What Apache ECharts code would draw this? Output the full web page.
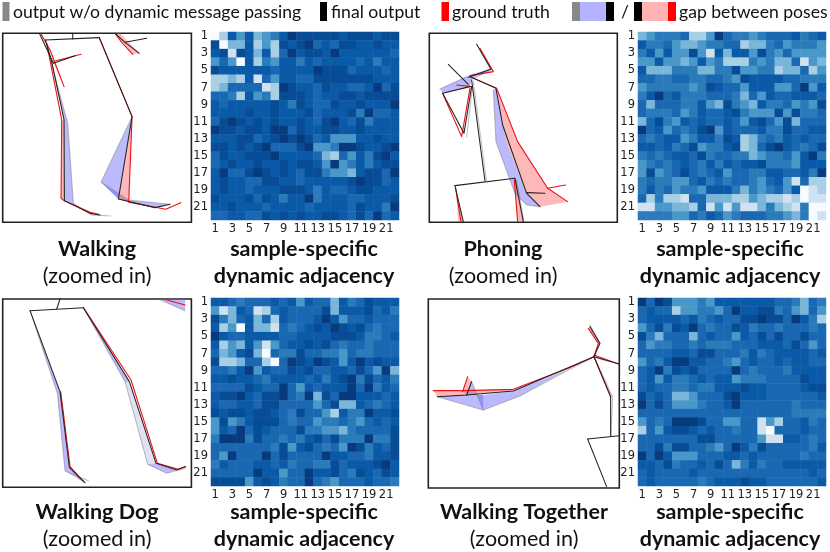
<!DOCTYPE html>
<html><head><meta charset="utf-8">
<style>html,body{margin:0;padding:0;background:#fff}#c{width:830px;height:552px}</style>
<script src="https://cdn.jsdelivr.net/npm/echarts@6/dist/echarts.min.js"></script>
</head><body><div id="c"></div>
<script>
const tickLabels = ['1','2','3','4','5','6','7','8','9','10','11','12','13','14','15','16','17','18','19','20','21','22'];
const matrixWalking = [
[9,7,2,5,2,6,5,4,2,0,1,1,1,1,1,2,1,1,1,2,1,1],
[1,9,6,6,2,7,5,7,1,2,1,0,3,2,3,1,1,2,2,1,2,2],
[2,1,8,1,2,6,2,7,3,0,2,1,1,2,0,2,2,2,2,2,2,3],
[5,3,5,9,2,7,4,5,2,2,4,2,3,2,2,2,2,3,2,4,2,2],
[1,2,2,2,2,2,2,3,2,2,2,2,0,1,1,1,3,2,2,2,3,2],
[7,7,6,7,2,8,3,5,2,2,3,3,1,1,1,1,1,1,1,2,2,2],
[7,6,3,3,3,3,8,7,0,1,2,2,3,1,2,2,3,3,2,0,3,1],
[3,3,4,7,2,5,4,7,1,1,1,2,3,2,2,1,1,2,1,1,1,1],
[2,3,2,2,2,2,2,1,2,4,1,2,3,3,1,2,2,1,2,2,2,0],
[2,2,2,2,1,2,2,1,2,2,2,1,3,2,2,2,1,4,0,3,3,2],
[3,1,0,1,2,1,2,1,2,2,1,2,3,1,0,2,3,1,4,2,2,2],
[0,1,1,2,1,1,2,0,0,3,1,2,2,1,1,2,2,1,2,2,2,2],
[2,2,2,1,1,3,2,1,0,1,0,1,3,2,5,5,5,2,2,1,2,2],
[1,1,2,1,2,1,0,3,3,3,1,0,5,5,4,0,0,1,2,2,1,0],
[3,1,2,2,1,1,1,0,2,2,2,2,3,6,7,3,5,2,4,1,0,2],
[3,2,1,2,2,1,2,2,1,2,1,1,2,5,0,5,4,2,4,2,1,1],
[2,0,3,3,1,0,1,2,1,2,3,1,1,4,5,5,6,2,1,1,3,0],
[2,1,2,2,3,3,1,1,2,2,3,2,2,2,2,2,1,0,1,1,3,2],
[2,1,2,2,3,2,2,2,1,1,1,2,4,2,3,3,2,1,1,2,2,2],
[1,2,2,2,1,3,1,2,4,2,2,0,4,2,2,2,3,3,2,2,2,1],
[2,2,1,2,2,2,3,2,2,2,2,3,2,2,2,2,3,1,2,2,4,0],
[3,3,2,2,3,3,1,2,1,2,1,2,2,1,1,2,3,1,3,0,3,2]];
const matrixPhoning = [
[6,5,4,4,4,3,7,7,5,0,3,4,4,5,4,3,3,3,2,4,3,2],
[2,4,4,3,5,6,6,5,4,4,3,3,7,6,6,4,3,5,4,4,4,5],
[4,2,5,2,5,5,1,5,8,2,6,2,2,5,1,4,5,3,5,5,5,5],
[5,5,2,5,5,6,5,2,5,4,7,7,7,4,5,4,6,6,3,8,5,6],
[2,6,6,6,4,4,4,6,6,4,4,1,5,5,4,4,7,6,6,3,7,5],
[3,3,4,4,3,3,4,4,3,3,4,5,1,2,2,2,2,3,3,4,4,4],
[5,4,4,4,4,4,5,4,1,2,3,3,5,2,2,2,5,5,3,0,5,2],
[4,2,0,3,2,4,4,4,3,3,3,4,6,3,5,2,3,3,2,2,2,3],
[3,6,3,3,3,4,4,2,5,6,1,4,5,6,2,4,4,3,5,4,5,1],
[3,4,4,4,3,5,4,2,3,3,2,1,4,5,5,5,1,5,1,4,4,3],
[6,3,1,4,5,2,3,2,3,3,2,3,5,2,1,3,5,1,6,3,3,3],
[0,3,2,5,3,4,3,1,0,5,2,3,3,3,2,4,4,1,3,3,2,2],
[3,4,3,2,2,5,4,2,2,4,1,2,7,6,4,3,4,2,3,2,3,3],
[2,2,3,2,4,3,1,5,4,4,2,1,7,6,3,1,0,2,3,4,3,1],
[4,3,4,3,2,2,3,1,4,3,3,4,4,6,5,4,4,3,5,2,0,4],
[5,4,3,4,3,2,3,4,2,4,2,3,2,2,1,4,4,4,5,2,2,2],
[5,1,5,4,3,1,3,4,3,2,5,3,3,4,4,2,2,3,3,2,4,0],
[4,3,4,4,5,5,3,2,4,3,4,3,3,4,5,3,2,5,8,3,7,7],
[4,2,4,3,5,4,4,5,2,2,2,4,6,4,5,4,3,5,2,9,8,7],
[3,7,4,7,7,8,3,3,6,6,6,7,7,5,6,7,7,8,7,9,8,8],
[8,8,5,5,6,6,7,3,8,5,8,5,8,8,6,4,6,7,8,4,9,9],
[4,4,4,4,5,5,3,4,2,3,5,4,3,3,3,4,4,5,6,4,9,8]];
const matrixDog = [
[2,2,3,4,3,3,3,2,3,2,5,2,3,3,6,2,4,3,1,2,2,2],
[5,8,6,2,3,8,7,3,2,3,3,3,3,1,6,2,2,2,1,3,2,4],
[1,4,6,3,2,6,3,7,2,3,3,3,2,0,2,5,3,3,2,3,3,3],
[2,7,5,9,2,6,6,8,3,4,3,2,1,2,0,1,2,1,3,4,3,3],
[0,2,3,3,2,2,2,2,3,3,2,2,2,2,1,1,1,2,4,4,3,2],
[2,7,5,6,2,5,8,5,3,2,2,1,2,1,3,4,3,3,4,3,3,3],
[3,6,5,2,1,6,9,3,4,4,1,3,3,4,4,5,3,4,4,3,3,3],
[1,7,7,6,3,3,7,9,3,0,1,2,0,1,2,5,2,0,2,1,2,2],
[3,3,4,2,0,5,2,3,3,1,2,1,3,3,2,2,3,1,3,5,0,6],
[2,2,1,2,2,3,4,2,2,2,2,3,2,4,2,1,0,4,1,3,2,4],
[3,3,3,3,1,2,3,3,0,3,5,2,3,2,2,2,0,3,0,4,2,3],
[2,1,1,0,2,3,1,1,0,3,4,0,6,1,3,0,0,2,2,2,3,2],
[2,3,3,2,2,3,1,1,3,3,3,3,5,3,1,6,6,2,3,4,3,2],
[1,2,1,1,2,1,1,2,3,4,1,3,3,5,7,2,4,4,0,2,2,1],
[5,1,5,4,2,1,1,1,3,4,3,3,5,4,4,3,4,5,3,2,3,2],
[5,2,3,0,3,1,2,3,3,3,1,4,4,5,5,6,4,3,3,3,3,1],
[4,0,0,0,4,1,3,3,4,3,4,2,1,3,1,4,4,4,0,4,4,1],
[3,3,3,3,3,3,3,4,1,5,2,1,3,4,3,5,0,1,4,2,3,1],
[3,5,0,3,3,3,0,3,1,3,3,3,3,0,2,2,3,3,4,2,2,1],
[4,2,3,3,3,2,2,3,2,4,3,3,4,4,1,3,2,2,2,1,0,2],
[3,3,3,3,3,0,2,2,5,3,3,0,2,2,1,3,4,1,2,3,1,2],
[1,1,1,1,5,2,1,2,4,3,3,0,3,4,5,3,3,3,2,3,3,4]];
const matrixTogether = [
[0,3,0,1,5,5,5,4,5,2,2,2,2,2,2,2,3,3,4,6,3,4],
[3,2,3,3,7,5,5,4,4,5,3,0,2,2,1,1,4,3,5,6,3,5],
[3,2,2,2,2,3,2,4,3,2,3,3,1,1,0,1,1,3,0,2,4,7],
[5,3,1,4,1,2,0,3,4,3,3,1,2,4,3,3,4,3,3,3,4,3],
[1,4,6,3,3,3,6,3,2,3,3,5,2,3,1,3,1,3,3,1,3,3],
[3,5,4,4,3,3,4,3,4,4,4,3,3,3,2,2,2,3,1,3,5,3],
[3,3,3,3,2,2,3,1,1,3,3,3,4,2,4,3,2,2,2,2,3,2],
[5,3,4,2,0,0,2,2,3,3,4,5,3,2,3,3,2,3,2,2,3,3],
[3,2,0,4,1,2,1,3,3,3,3,0,3,4,3,3,3,4,2,2,2,2],
[3,2,5,2,4,4,3,2,3,2,2,5,4,4,4,3,3,3,3,1,2,2],
[3,2,3,3,4,4,3,4,4,2,2,2,1,2,2,3,3,3,3,2,1,1],
[1,3,2,3,6,6,5,3,3,3,1,0,2,2,2,3,3,3,3,3,3,2],
[0,3,1,3,5,5,5,4,3,3,2,0,3,3,3,3,3,3,4,3,3,3],
[3,3,3,3,3,3,3,3,3,3,3,3,3,3,3,3,3,3,4,4,4,4],
[5,3,4,3,0,0,0,1,3,3,5,5,3,3,8,5,7,3,3,2,4,3],
[7,3,5,2,1,1,2,3,2,3,3,4,3,3,8,9,3,3,3,2,3,3],
[3,3,3,3,3,3,3,1,1,3,3,3,3,3,5,8,8,2,2,3,4,3],
[3,3,1,4,1,1,3,3,4,5,3,0,2,4,1,3,3,3,3,3,4,2],
[0,3,0,2,5,5,5,3,3,3,2,2,3,2,3,3,3,3,3,4,3,3],
[2,2,3,1,4,3,3,2,3,1,3,6,4,2,4,3,3,2,2,2,2,2],
[3,2,3,3,3,3,2,3,3,3,3,3,3,3,3,3,3,3,3,3,2,3],
[3,2,3,3,3,3,3,4,3,2,2,2,1,2,2,3,3,3,3,3,3,2]];

// Pose joints, one list per bone chain
const walkBlack = [[[136,45],[298,38]],[[218,42],[218,25]],[[298,38],[396,275],[355,522],[465,548],[510,538]],[[136,45],[155,110],[192,285],[193,527],[270,565],[300,570]],[[118,25],[160,115],[225,92]],[[345,25],[375,52],[440,40]],[[375,52],[418,85]]];
const walkRed = [[[140,55],[185,285],[183,520],[192,527],[270,562],[295,568]],[[298,40],[396,275],[386,532],[497,553],[542,533]],[[122,25],[150,75],[192,185]],[[165,108],[243,88]],[[345,25],[365,52],[398,88]]];
const walkGray = [[[150,100],[203,295],[220,535],[275,570],[332,573]],[[396,275],[303,472],[385,525],[510,538]]];
const walkBlue = [[[150,100],[203,295],[220,535],[193,527],[192,285]],[[193,527],[220,535],[275,570],[332,573],[300,570],[270,565]],[[396,275],[303,472],[355,522]],[[303,472],[385,525],[510,538],[465,548],[355,522]]];
const walkPink = [[[396,275],[386,532],[355,522]],[[355,522],[386,532],[465,548]],[[192,285],[185,285],[183,520],[193,527]],[[345,25],[360,25],[418,85],[398,88]],[[150,75],[160,112],[178,155],[192,185]]];

const phoneBlack = [[[90,482],[270,460]],[[180,468],[140,165]],[[155,58],[198,133],[130,157]],[[70,118],[130,178]],[[135,185],[53,205],[117,325],[140,185]],[[135,155],[213,190],[233,300],[305,505],[345,545]],[[305,503],[360,505]],[[90,482],[115,590]],[[270,460],[295,590]]];
const phoneRed = [[[165,70],[205,140],[135,152]],[[135,155],[215,190],[278,350],[368,490],[428,530]],[[368,490],[422,480]],[[53,205],[110,335],[135,190]],[[95,180],[140,185]],[[92,490],[108,590]],[[268,465],[278,590]]];
const phoneGray = [[[205,195],[213,350],[270,505],[305,540],[345,545]],[[45,192],[125,155]],[[145,170],[184,465]],[[125,335],[142,190]],[[275,465],[297,590]]];
const phoneBlue = [[[205,195],[213,190],[245,355],[305,505],[345,545],[305,540],[270,505],[213,350]],[[45,192],[135,150],[198,130],[197,137],[140,165],[135,185],[53,205]]];
const phonePink = [[[213,190],[278,350],[368,490],[428,530],[345,545],[305,505],[245,355]],[[92,490],[100,590],[115,590]],[[268,465],[278,590],[295,590],[275,465]]];

const dogBlack = [[[180,27],[170,57]],[[90,62],[250,53]],[[90,62],[180,305],[208,532],[255,578]],[[250,53],[388,275],[468,520],[530,540],[555,530]]];
const dogRed = [[[250,53],[393,270],[472,520],[535,538],[557,530]],[[182,305],[210,530],[250,575]],[[490,27],[555,45]]];
const dogGray = [[[90,62],[172,310],[195,543],[265,572]],[[250,53],[375,275],[443,523],[500,550],[555,535]],[[475,27],[555,62]]];
const dogBlue = [[[90,62],[180,305],[208,532],[255,578],[195,543],[172,310]],[[250,53],[388,275],[375,275]],[[443,523],[468,520],[530,540],[500,550]],[[475,27],[555,27],[555,62]]];
const dogPale = [[[375,275],[388,275],[468,520],[443,523]]];
const dogPink = [[[208,532],[212,532],[250,575],[235,568]]];

const togetherBlack = [[[495,110],[525,160],[507,200],[265,303],[125,315],[37,320]],[[140,275],[125,315]],[[507,200],[583,222]],[[507,200],[557,320],[557,437]],[[488,447],[583,437]],[[488,447],[545,590]]];
const togetherRed = [[[490,115],[520,160],[507,200],[430,235],[265,298],[115,302],[25,302]],[[128,260],[113,305]],[[507,200],[557,320]],[[507,195],[580,222]]];
const togetherGray = [[[495,105],[525,160]],[[507,200],[430,240],[285,318],[175,360],[37,320]],[[125,315],[140,275],[175,360]],[[507,200],[563,320],[558,437]]];
const togetherBlue = [[[37,320],[125,315],[175,315],[175,360]],[[175,315],[265,303],[285,318],[175,360]],[[125,315],[140,275],[175,360],[175,315]],[[285,318],[265,303],[430,238]],[[507,200],[530,210],[583,222]]];
const togetherPink = [[[25,302],[115,302],[125,315],[37,320]],[[115,302],[265,298],[265,303],[125,315]],[[128,260],[140,275],[125,315],[113,305]],[[490,115],[495,108],[525,160],[520,160]],[[520,160],[525,160],[507,200]]];

const blues = ['#083a7e','#084c96','#0b5aa8','#1a68b1','#2b7bba','#4a98c9','#7ab6d9','#a9cfe5','#d0e2f2','#f7fbff'];

const heatPanels = [
  {m:matrixWalking, left:211, top:32, w:188, h:188},
  {m:matrixPhoning, left:638, top:32, w:188, h:188},
  {m:matrixDog, left:211, top:298, w:188, h:188},
  {m:matrixTogether, left:638, top:298, w:188, h:188}
];
const posePanels = [
  {left:2.7, top:33.3, w:188.7, h:189, xr:[8,574], yr:[25,592], black:walkBlack, red:walkRed, gray:walkGray, blue:walkBlue, pink:walkPink, pale:[]},
  {left:429.3, top:33.3, w:188, h:189, xr:[13,577], yr:[25,592], black:phoneBlack, red:phoneRed, gray:phoneGray, blue:phoneBlue, pink:phonePink, pale:[]},
  {left:2.7, top:299, w:188.7, h:188.3, xr:[8,574], yr:[27,592], black:dogBlack, red:dogRed, gray:dogGray, blue:dogBlue, pink:dogPink, pale:dogPale},
  {left:428.3, top:299, w:191, h:189, xr:[10,583], yr:[27,594], black:togetherBlack, red:togetherRed, gray:togetherGray, blue:togetherBlue, pink:togetherPink, pale:[]}
];

const grid=[], xAxis=[], yAxis=[], series=[];
heatPanels.forEach(p=>{
  const i=grid.length;
  grid.push({left:p.left,top:p.top,width:p.w,height:p.h,show:false});
  const lab={fontFamily:'DejaVu Sans',fontSize:11.5,color:'#222',interval:1,margin:3};
  xAxis.push({gridIndex:i,type:'category',data:tickLabels,axisLine:{show:false},axisTick:{show:false},axisLabel:lab,splitLine:{show:false},splitArea:{show:false}});
  yAxis.push({gridIndex:i,type:'category',data:tickLabels,inverse:true,axisLine:{show:false},axisTick:{show:false},axisLabel:lab,splitLine:{show:false},splitArea:{show:false}});
  const d=[];
  p.m.forEach((r,y)=>r.forEach((v,x)=>d.push([x,y,v])));
  series.push({type:'heatmap',xAxisIndex:i,yAxisIndex:i,data:d,itemStyle:{borderWidth:0},progressive:0,emphasis:{disabled:true}});
});
const heatIdx=series.map((s,i)=>i);

function polySeries(i,polys,color){
  return {type:'custom',xAxisIndex:i,yAxisIndex:i,silent:true,
    data:polys.map((_,k)=>[k]),
    encode:{x:[],y:[]},
    renderItem:(params,api)=>{
      const pts=polys[api.value(0)].map(q=>api.coord(q));
      return {type:'polygon',shape:{points:pts},style:{fill:color}};
    }};
}
function lineSeries(i,lines,color,width){
  return lines.map(l=>({type:'line',xAxisIndex:i,yAxisIndex:i,data:l,symbol:'none',silent:true,
    lineStyle:{color:color,width:width,cap:'round',join:'round'},clip:true}));
}
posePanels.forEach(p=>{
  const i=grid.length;
  grid.push({left:p.left,top:p.top,width:p.w,height:p.h,show:true,borderColor:'#222',borderWidth:1.6,backgroundColor:'#fff'});
  xAxis.push({gridIndex:i,type:'value',min:p.xr[0],max:p.xr[1],show:false,splitLine:{show:false}});
  yAxis.push({gridIndex:i,type:'value',min:p.yr[0],max:p.yr[1],inverse:true,show:false,splitLine:{show:false}});
  if(p.pale.length) series.push(polySeries(i,p.pale,'rgba(200,200,235,0.55)'));
  series.push(polySeries(i,p.blue,'rgba(90,90,250,0.42)'));
  series.push(polySeries(i,p.pink,'rgba(250,80,80,0.4)'));
  series.push(...lineSeries(i,p.gray,'rgba(130,130,130,0.5)',1.1));
  series.push(...lineSeries(i,p.red,'#f01010',1.1));
  series.push(...lineSeries(i,p.black,'#222',1.05));
});

const capFont='Lato, "Open Sans", sans-serif';
function cap(x,y,t,bold){return {type:'text',x:x,y:y,style:{text:t,align:'center',verticalAlign:'middle',font:(bold?'bold ':'')+'21.5px '+capFont,fill:'#111'}};}
function leg(x,t){return {type:'text',x:x,y:12,style:{text:t,align:'left',verticalAlign:'middle',font:'17.6px '+capFont,fill:'#111'}};}
function box(x,w,c){return {type:'rect',shape:{x:x,y:2,width:w,height:19},style:{fill:c}};}
const captions=[
 cap(97,249,'Walking',true),cap(97,276,'(zoomed in)',false),
 cap(304,249,'sample-specific',true),cap(304,276,'dynamic adjacency',true),
 cap(503,249,'Phoning',true),cap(503,276,'(zoomed in)',false),
 cap(730,249,'sample-specific',true),cap(730,276,'dynamic adjacency',true),
 cap(97,512,'Walking Dog',true),cap(97,539,'(zoomed in)',false),
 cap(304,512,'sample-specific',true),cap(304,539,'dynamic adjacency',true),
 cap(524,512,'Walking Together',true),cap(524,539,'(zoomed in)',false),
 cap(730,512,'sample-specific',true),cap(730,539,'dynamic adjacency',true)
];
const legendMarks=[
 box(2.5,7,'#888'),leg(13,'output w/o dynamic message passing'),
 box(320,7,'#000'),leg(331,'final output'),
 box(441.5,7.5,'#f00'),leg(452,'ground truth'),
 box(572,8,'#888'),box(580,26,'#b3b3ff'),box(606,8,'#000'),
 leg(621,'/'),
 box(634,8,'#000'),box(642,26,'#ffb3b3'),box(668,8,'#f00'),
 leg(679,'gap between poses')
];

const chart=echarts.init(document.getElementById('c'),null,{renderer:'canvas'});
chart.setOption({
  animation:false,backgroundColor:'#fff',
  grid,xAxis,yAxis,series,
  visualMap:{show:false,type:'continuous',min:0,max:9,seriesIndex:heatIdx,inRange:{color:blues}},
  graphic:{elements:[...captions,...legendMarks]}
});
</script></body></html>
